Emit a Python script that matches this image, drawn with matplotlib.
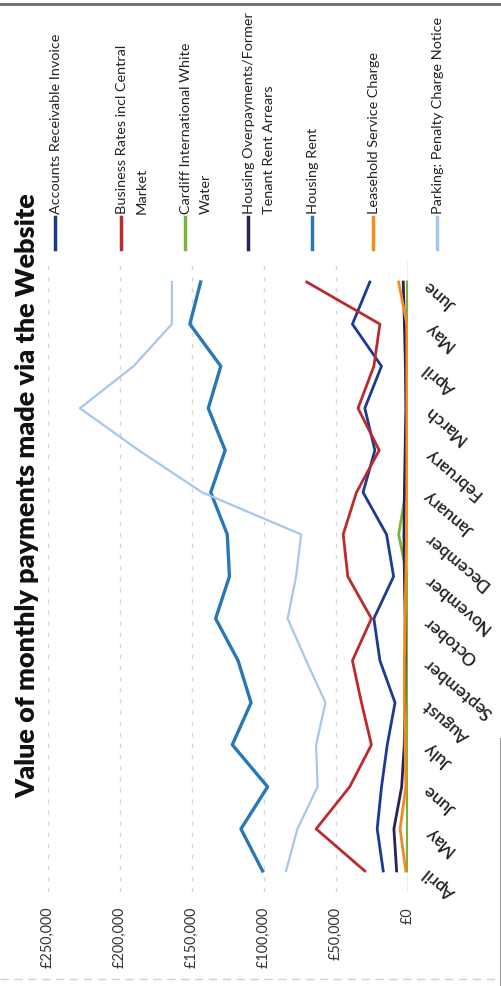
import matplotlib
matplotlib.use('Agg')
import matplotlib.pyplot as plt
from matplotlib.lines import Line2D
from matplotlib import font_manager
from matplotlib.font_manager import FontProperties

# ---------------- data (values in £ thousands) ----------------
months = ['April', 'May', 'June', 'July', 'August', 'September', 'October',
          'November', 'December', 'January', 'February', 'March', 'April',
          'May', 'June']

accounts_receivable = [17.2, 21.4, 18.4, 14.4, 9.0, 19.5, 23.7, 10.0, 14.9,
                       31.2, 23.0, 30.0, 18.4, 38.6, 26.5]
business_rates = [30.0, 63.8, 40.5, 25.4, 32.3, 38.6, 25.4, 41.8, 45.0,
                  35.8, 20.0, 34.7, 23.7, 19.5, 70.3]
cardiff_white_water = [0.5, 0.5, 0.5, 0.5, 0.5, 0.5, 0.5, 0.5, 6.5,
                       1.5, 0.5, 0.5, 0.5, 0.5, 0.5]
housing_overpayments = [7.9, 9.8, 4.4, 2.6, 2.2, 2.0, 2.0, 2.5, 2.8,
                        2.5, 2.0, 1.5, 1.8, 2.5, 3.3]
housing_rent = [101.0, 116.0, 97.5, 122.0, 109.0, 118.0, 133.6, 124.0, 125.5,
                137.0, 127.0, 138.7, 130.0, 151.5, 144.0]
leasehold = [1.5, 5.5, 1.5, 2.0, 2.5, 2.5, 2.0, 1.5, 1.0,
             0.8, 0.8, 0.8, 0.8, 0.8, 6.5]
parking = [84.7, 76.8, 62.8, 63.8, 57.3, 70.7, 83.6, 77.7, 74.2,
           143.0, 187.0, 227.8, 190.6, 164.0, 164.0]
unlabelled_series = [0.0] * 15

series_names = ['Accounts Receivable Invoice',
                'Business Rates incl Central\nMarket',
                'Cardiff International White\nWater',
                'Housing Overpayments/Former\nTenant Rent Arrears',
                'Housing Rent',
                'Leasehold Service Charge',
                'Parking: Penalty Charge Notice']

value_ticks = [0, 50000, 100000, 150000, 200000, 250000]
value_tick_labels = ['£0', '£50,000', '£100,000', '£150,000', '£200,000', '£250,000']

title = 'Value of monthly payments made via the Website'

# ---------------- styling ----------------
names = {f.name for f in font_manager.fontManager.ttflist}
BASE = 'Lato' if 'Lato' in names else ('Liberation Sans' if 'Liberation Sans' in names else 'DejaVu Sans')
FAM = [BASE, 'DejaVu Sans']

colors = ['#1b3a90', '#bb2a2e', '#78b33c', '#2b2158', '#2878b5', '#f28a1e', '#a7c6ec']
widths = [2.0, 2.0, 2.0, 2.0, 2.4, 2.0, 1.6]
all_series = [accounts_receivable, business_rates, cardiff_white_water,
              housing_overpayments, housing_rent, leasehold, parking]

W, H = 502, 987
fig = plt.figure(figsize=(W / 100, H / 100), dpi=100)
fig.patch.set_facecolor('white')
renderer = fig.canvas.get_renderer()


def fit_size(text, target_px, weight='normal'):
    """font size (pt) that makes `text` about target_px long."""
    fp = FontProperties(family=FAM, size=10, weight=weight)
    w, _, _ = renderer.get_text_width_height_descent(text, fp, ismath=False)
    return 10 * target_px / w


title_fs = fit_size(title, 600, 'bold')
legend_fs = fit_size('Accounts Receivable Invoice', 180)
value_fs = fit_size('£250,000', 62)
month_fs = fit_size('September', 84)

ax = fig.add_axes([48 / W, 1 - 893 / H, 360 / W, (893 - 262) / H])
pos = list(range(len(months)))

ax.plot([v * 1000 for v in unlabelled_series], pos, color='#f3d11a', lw=1.6, zorder=2)
for vals, c, lw in zip(all_series, colors, widths):
    ax.plot([v * 1000 for v in vals], pos, color=c, lw=lw, zorder=3)

ax.set_xlim(250000, 0)
ax.set_ylim(-0.5, len(months) - 0.5)
ax.set_xticks(value_ticks)
ax.set_xticklabels(value_tick_labels, rotation=90, fontsize=value_fs,
                   family=FAM, color='#2f363c')
ax.tick_params(axis='x', length=0, pad=10)
ax.set_yticks([])
ax.xaxis.grid(True, color='#d6d6d6', linestyle=(0, (3, 5)), lw=1.0)
ax.axvline(0, color='#b0b0b0', lw=1.0, zorder=1)
for s in ax.spines.values():
    s.set_visible(False)

ytr = ax.get_yaxis_transform()
for i, m in enumerate(months):
    ax.text(1.05, i, m, transform=ytr, rotation=140, rotation_mode='anchor',
            ha='right', va='center', fontsize=month_fs, family=FAM,
            fontweight='semibold', color='#222222', clip_on=False)

# title
fig.text(27 / W, 1 - 496 / H, title, rotation=90, ha='center', va='center',
         fontsize=title_fs, fontweight='heavy', family=FAM, color='#111111')

# legend (rotated, drawn manually)
legend_x = [55, 121, 185, 248, 312, 373, 437]
for mx, c, name in zip(legend_x, colors, series_names):
    fig.add_artist(Line2D([mx / W, mx / W], [1 - 218 / H, 1 - 250 / H],
                          color=c, lw=2.5, transform=fig.transFigure))
    fig.text((mx - 5) / W, 1 - 214 / H, name, rotation=90, rotation_mode='anchor',
             ha='left', va='top', fontsize=legend_fs, family=FAM, color='#222222',
             linespacing=1.8)

# scan border artefacts
fig.add_artist(Line2D([0, 1], [1 - 5 / H, 1 - 5 / H], color='#6a6a6a', lw=2,
                      transform=fig.transFigure))
fig.add_artist(Line2D([0, 1], [1 - 980 / H, 1 - 980 / H], color='#d0d0d0', lw=1,
                      linestyle=(0, (6, 4)), transform=fig.transFigure))
fig.add_artist(Line2D([501 / W, 501 / W], [0, 1 - 740 / H], color='#9a9a9a', lw=1.5,
                      transform=fig.transFigure))

fig.savefig('out.png', dpi=100, facecolor='white')
